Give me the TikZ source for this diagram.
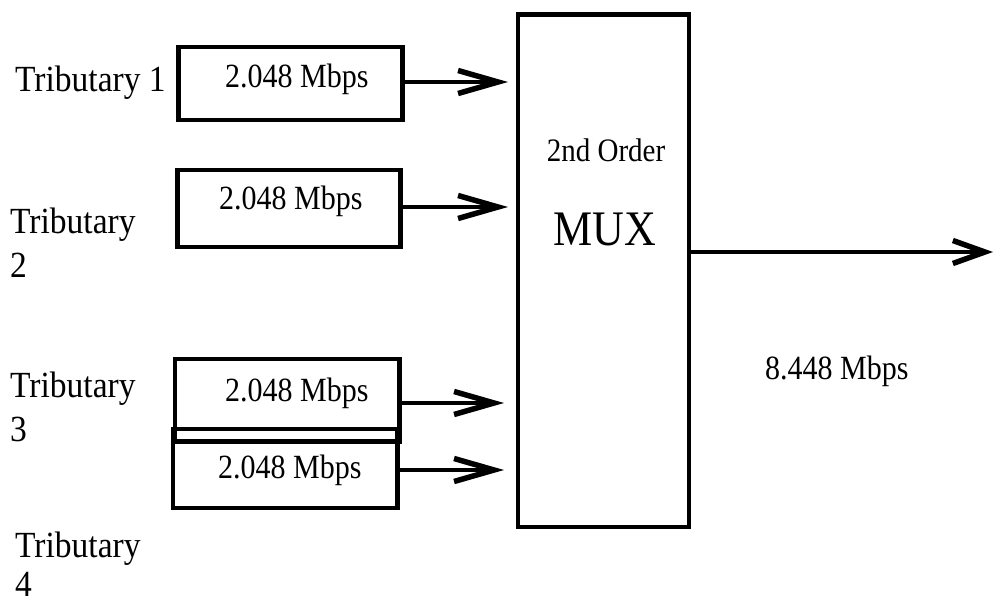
\documentclass[tikz,border=0pt]{standalone}
\usepackage{fontspec}
\setmainfont{Liberation Serif}
\usetikzlibrary{arrows.meta}
\newcommand\tallt[1]{\scalebox{1}[1.13]{#1}}
\newcommand\tribl[1]{\scalebox{1}[1.1]{#1}}
\begin{document}
\begin{tikzpicture}[x=1pt,y=-1pt,
  boxstyle/.style={draw,line width=4.5pt,inner sep=0pt},
  rate/.style={font=\fontsize{30}{30}\selectfont,inner sep=0pt,anchor=base west},
  trib/.style={font=\fontsize{33.5}{44}\selectfont,inner sep=0pt,anchor=base west,align=left},
  link/.style={line width=4pt,-{Straight Barb[length=40pt,width=23pt,line width=5.5pt]}},
  outlink/.style={line width=4pt,-{Straight Barb[length=32pt,width=23pt,line width=5.5pt]}}]
\useasboundingbox (0,0) rectangle (997,604);
% boxes (centre lines of the borders)
\node[boxstyle,minimum width=224pt,minimum height=73pt,anchor=north west] (b1) at (176,45) {};
\node[boxstyle,minimum width=223pt,minimum height=77pt,anchor=north west] (b2) at (175,168) {};
\node[boxstyle,minimum width=224.5pt,minimum height=82pt,anchor=north west] (b3) at (172.5,357) {};
\node[boxstyle,minimum width=224.5pt,minimum height=79pt,anchor=north west] (b4) at (170.5,426.5) {};
\node[boxstyle,minimum width=171pt,minimum height=512pt,anchor=north west] (mux) at (515.5,12.5) {};
% box texts
\node[rate] (r1) at (225,88) {\tallt{2.048 Mbps}};
\node[rate] (r2) at (219,210) {\tallt{2.048 Mbps}};
\node[rate] (r3) at (225,401) {\tallt{2.048 Mbps}};
\node[rate] (r4) at (218,478) {\tallt{2.048 Mbps}};
% tributary labels (anchored at the baseline of the last line)
\node[trib] (t1) at (15,92) {\tribl{Tributary 1}};
\node[trib] (t2) at (10,278) {\tribl{Tributary}\\\tribl{2}};
\node[trib] (t3) at (10,441) {\tribl{Tributary}\\\tribl{3}};
\node[trib,font=\fontsize{33.5}{39}\selectfont] (t4) at (15,596) {\tribl{Tributary}\\\tribl{4}};
% mux texts
\node[font=\fontsize{29}{29}\selectfont,inner sep=0pt,anchor=base] (ord) at (606,162) {\tallt{2nd Order}};
\node[font=\fontsize{44}{44}\selectfont,inner sep=0pt,anchor=base] (muxt) at (605,246) {\tallt{MUX}};
\node[rate] (out) at (765,379) {\tallt{8.448 Mbps}};
% arrow tips
\coordinate (p1) at (508,82);
\coordinate (p2) at (508,207);
\coordinate (p3) at (504,403);
\coordinate (p4) at (504,470);
\coordinate (po) at (993,252);
\draw[link] (b1.east |- p1) -- (p1);
\draw[link] (b2.east |- p2) -- (p2);
\draw[link] (b3.east |- p3) -- (p3);
\draw[link] (b4.east |- p4) -- (p4);
\draw[outlink] (mux.east |- po) -- (po);
\end{tikzpicture}
\end{document}
